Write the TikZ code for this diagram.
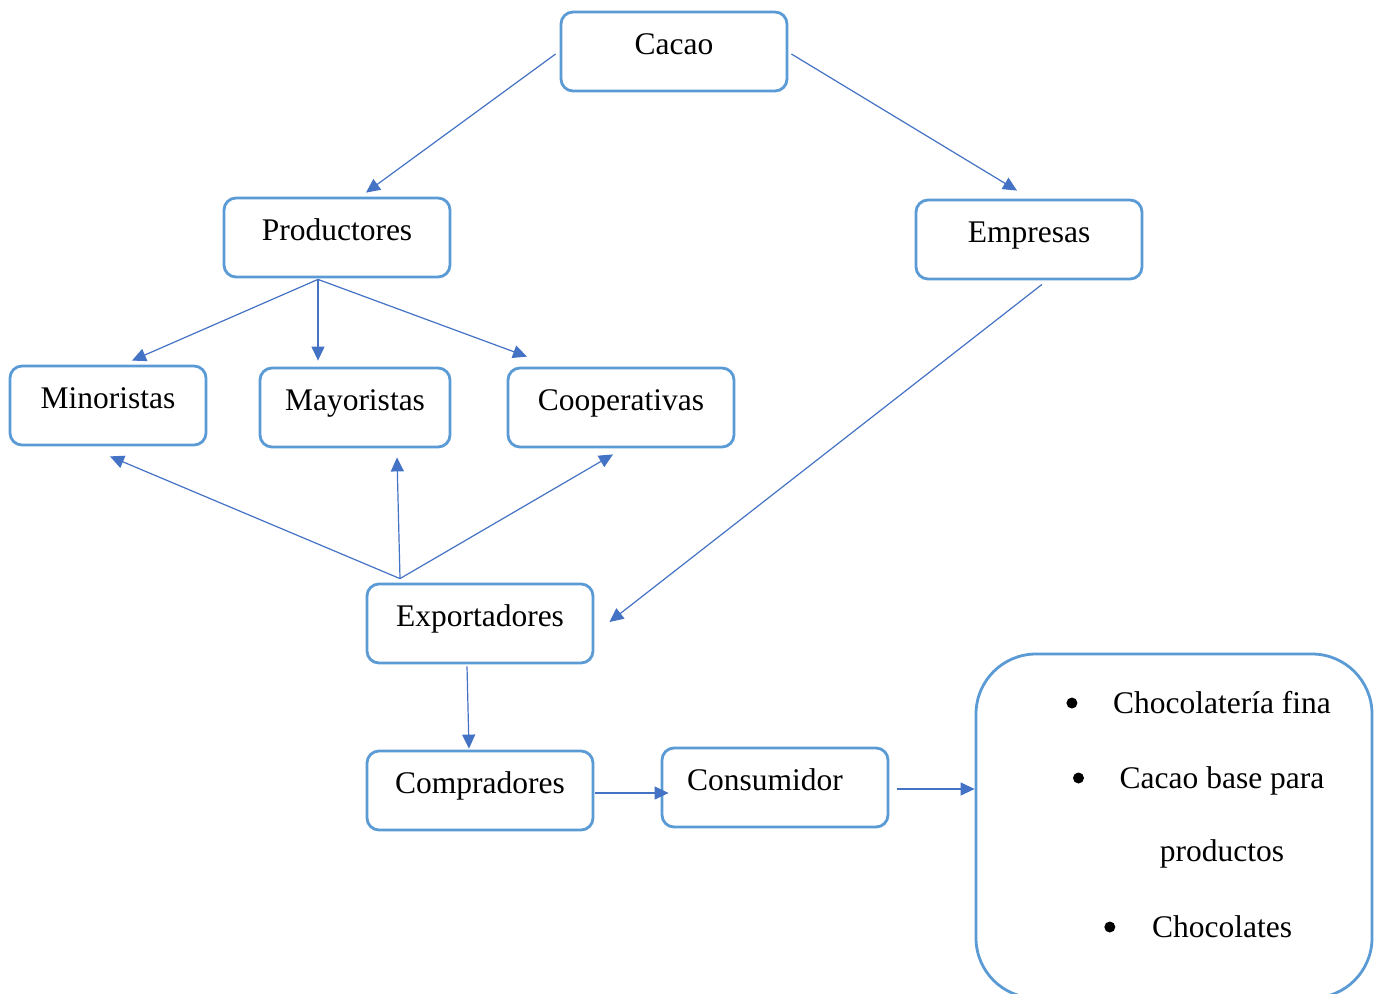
\documentclass[tikz,border=0pt]{standalone}
\usepackage{fontspec}
\setmainfont{Liberation Serif}
\usetikzlibrary{arrows.meta,calc}
\definecolor{boxblue}{HTML}{5B9BD5}
\definecolor{arrblue}{HTML}{4472C4}
\tikzset{
  stagebox/.style={draw=boxblue, line width=2.8pt, rounded corners=12pt,
    minimum width=226pt, minimum height=79pt, inner sep=0pt,
    text height=12pt, text depth=7pt,
    font=\fontsize{31.5}{37}\selectfont},
  flow/.style={draw=arrblue, line width=1.2pt,
    -{Triangle[length=14pt,width=13pt]}},
  itemtext/.style={anchor=base, inner sep=0pt, font=\fontsize{31.5}{37}\selectfont},
  dot/.style={circle, fill=black, minimum size=11pt, inner sep=0pt}
}
\begin{document}
\begin{tikzpicture}[x=1pt, y=-1pt]
\useasboundingbox (0,0) rectangle (1383,993);
\fill[white] (0,0) rectangle (1383,993);

% stages of the chain
\node[stagebox] (cacao) at (674,51.5) {Cacao};
\node[stagebox] (prod)  at (337,237.5) {Productores};
\node[stagebox] (emp)   at (1029,239.5) {Empresas};
\node[stagebox, minimum width=196pt] (mino) at (108,405.5) {Minoristas};
\node[stagebox, minimum width=190pt] (mayo) at (355,407.5) {Mayoristas};
\node[stagebox] (coop)  at (621,407.5) {Cooperativas};
\node[stagebox] (expo)  at (480,623.5) {Exportadores};
\node[stagebox] (comp)  at (480,790.5) {Compradores};
\node[stagebox] (cons)  at (775,787.5) {Consumidor\hspace*{20pt}};

% final products
\node[draw=boxblue, line width=2.8pt, rounded corners=60pt,
      minimum width=396pt, minimum height=344pt] (prodfin) at (1174,826) {};
\node[itemtext] (i1) at (1222,713) {Chocolatería fina};
\node[itemtext] (i2) at (1222,788) {Cacao base para};
\node[itemtext] (i3) at (1222,861) {productos};
\node[itemtext] (i4) at (1222,937) {Chocolates};
\node[dot] (b1) at ($(i1.base west)+(-41,-10)$) {};
\node[dot] (b2) at ($(i2.base west)+(-41,-10)$) {};
\node[dot] (b4) at ($(i4.base west)+(-42,-10)$) {};

% connectors
\draw[flow] ($(cacao.west)+(-4,2.5)$) -- ($(prod.north)+(29,-4)$);
\draw[flow] ($(cacao.east)+(3,2.5)$) -- ($(emp.north)+(-12,-8)$);
\draw[flow] ($(prod.south)+(-19,1)$) -- ($(mino.north)+(24,-4)$);
\draw[flow] ($(prod.south)+(-19,1)$) -- ($(mayo.north)+(-37,-6)$);
\draw[flow] ($(prod.south)+(-19,1)$) -- ($(coop.north)+(-94,-10)$);
\draw[flow] ($(expo.north)+(-80,-4)$) -- ($(mino.south)+(2,10)$);
\draw[flow] ($(expo.north)+(-80,-4)$) -- ($(mayo.south)+(42,9)$);
\draw[flow] ($(expo.north)+(-80,-4)$) -- ($(coop.south)+(-8,6)$);
\draw[flow] ($(emp.south)+(13,4)$) -- ($(expo.east)+(15,-1.5)$);
\draw[flow] ($(expo.south)+(-13,2)$) -- ($(comp.north)+(-11,-1)$);
\draw[flow] ($(comp.east)+(1,2.5)$) -- ($(cons.west)+(8,5.5)$);
\draw[flow] ($(cons.east)+(8,1.5)$) -- ($(prodfin.west)+(0,-37)$);
\end{tikzpicture}
\end{document}
